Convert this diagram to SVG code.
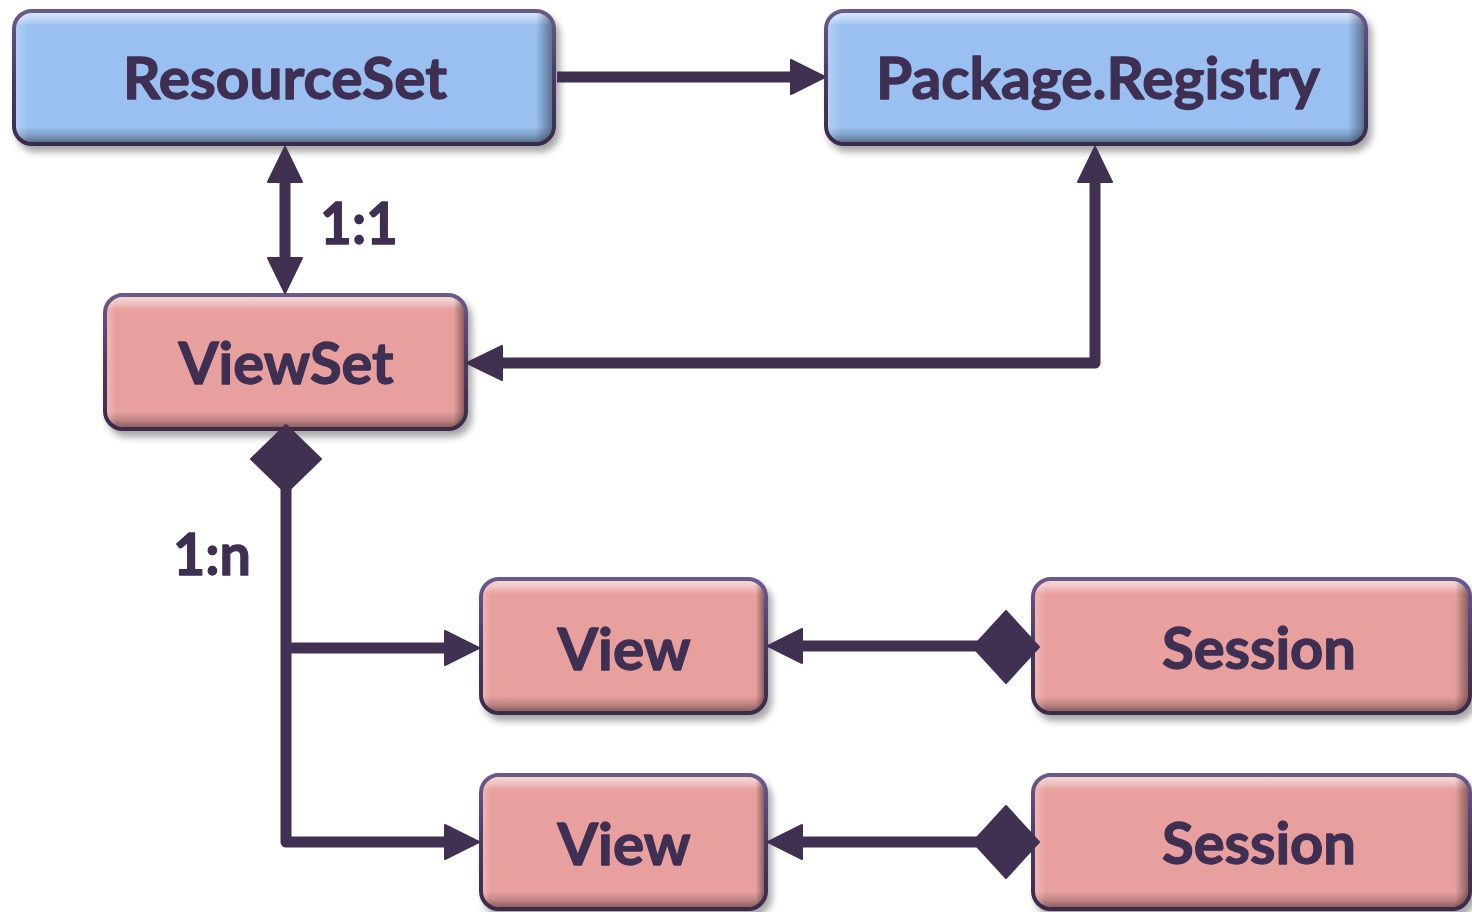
<svg xmlns="http://www.w3.org/2000/svg" width="1472" height="912" viewBox="0 0 1472 912">
<defs>
<style>
.box{stroke:url(#border);stroke-width:4;}
.blue{fill:#99c0f1;}
.pink{fill:#e8a09f;}
.bev{fill:url(#bevV);}
.bevh{fill:url(#bevH);}
.lbl{font-family:Lato,"Open Sans","Liberation Sans",sans-serif;font-weight:bold;font-size:58px;fill:#3e2f53;stroke:#3e2f53;stroke-width:1.3;stroke-linejoin:round;text-anchor:middle;}
.ln{fill:none;stroke:#403152;stroke-width:11;stroke-linejoin:round;}
.hd{fill:#403152;stroke:#403152;stroke-width:2;stroke-linejoin:round;}
</style>
<linearGradient id="border" x1="0" y1="0" x2="0" y2="1">
<stop offset="0" stop-color="#6b5a8c"/>
<stop offset="0.5" stop-color="#4a3a63"/>
<stop offset="1" stop-color="#3a2b49"/>
</linearGradient>
<linearGradient id="bevV" x1="0" y1="0" x2="0" y2="1">
<stop offset="0" stop-color="#ffffff" stop-opacity="0.6"/>
<stop offset="0.05" stop-color="#ffffff" stop-opacity="0.35"/>
<stop offset="0.1" stop-color="#ffffff" stop-opacity="0"/>
<stop offset="0.88" stop-color="#000000" stop-opacity="0"/>
<stop offset="0.94" stop-color="#000000" stop-opacity="0.15"/>
<stop offset="1" stop-color="#000000" stop-opacity="0.4"/>
</linearGradient>
<linearGradient id="bevH" x1="0" y1="0" x2="1" y2="0">
<stop offset="0" stop-color="#ffffff" stop-opacity="0.25"/>
<stop offset="0.025" stop-color="#ffffff" stop-opacity="0"/>
<stop offset="0.97" stop-color="#000000" stop-opacity="0"/>
<stop offset="1" stop-color="#000000" stop-opacity="0.4"/>
</linearGradient>
<filter id="sh" x="-10%" y="-20%" width="125%" height="150%">
<feDropShadow dx="4" dy="6" stdDeviation="3.5" flood-color="#000" flood-opacity="0.35"/>
</filter>
</defs>
<rect width="1472" height="912" fill="#ffffff"/>

<g id="ResourceSet">
<rect class="box blue" x="14" y="11" width="540" height="133" rx="18" filter="url(#sh)"/>
<rect class="bev" x="16" y="13" width="536" height="129" rx="16"/>
<rect class="bevh" x="16" y="13" width="536" height="129" rx="16"/>
<text class="lbl" x="285" y="99" textLength="324" lengthAdjust="spacingAndGlyphs">ResourceSet</text>
</g>
<g id="PackageRegistry">
<rect class="box blue" x="826" y="11" width="540" height="133" rx="18" filter="url(#sh)"/>
<rect class="bev" x="828" y="13" width="536" height="129" rx="16"/>
<rect class="bevh" x="828" y="13" width="536" height="129" rx="16"/>
<text class="lbl" x="1098" y="99" textLength="444" lengthAdjust="spacingAndGlyphs">Package.Registry</text>
</g>
<g id="ViewSet">
<rect class="box pink" x="105" y="295" width="361" height="134" rx="18" filter="url(#sh)"/>
<rect class="bev" x="107" y="297" width="357" height="130" rx="16"/>
<rect class="bevh" x="107" y="297" width="357" height="130" rx="16"/>
<text class="lbl" x="286" y="384" textLength="215" lengthAdjust="spacingAndGlyphs">ViewSet</text>
</g>
<g id="View1">
<rect class="box pink" x="481" y="579" width="285" height="134" rx="18" filter="url(#sh)"/>
<rect class="bev" x="483" y="581" width="281" height="130" rx="16"/>
<rect class="bevh" x="483" y="581" width="281" height="130" rx="16"/>
<text class="lbl" x="624" y="670" textLength="133" lengthAdjust="spacingAndGlyphs">View</text>
</g>
<g id="Session1">
<rect class="box pink" x="1033" y="579" width="437" height="134" rx="18" filter="url(#sh)"/>
<rect class="bev" x="1035" y="581" width="433" height="130" rx="16"/>
<rect class="bevh" x="1035" y="581" width="433" height="130" rx="16"/>
<text class="lbl" x="1259" y="669" textLength="194" lengthAdjust="spacingAndGlyphs">Session</text>
</g>
<g id="View2">
<rect class="box pink" x="481" y="775" width="285" height="134" rx="18" filter="url(#sh)"/>
<rect class="bev" x="483" y="777" width="281" height="130" rx="16"/>
<rect class="bevh" x="483" y="777" width="281" height="130" rx="16"/>
<text class="lbl" x="624" y="865" textLength="133" lengthAdjust="spacingAndGlyphs">View</text>
</g>
<g id="Session2">
<rect class="box pink" x="1033" y="775" width="437" height="134" rx="18" filter="url(#sh)"/>
<rect class="bev" x="1035" y="777" width="433" height="130" rx="16"/>
<rect class="bevh" x="1035" y="777" width="433" height="130" rx="16"/>
<text class="lbl" x="1259" y="864" textLength="194" lengthAdjust="spacingAndGlyphs">Session</text>
</g>

<g id="connectors">
<path class="ln" d="M557,77 H792"/>
<polygon class="hd" points="825,77 791,60 791,94"/>
<path class="ln" d="M285,180 V260"/>
<polygon class="hd" points="285,147 268,182 302,182"/>
<polygon class="hd" points="285,293 268,258 302,258"/>
<path class="ln" d="M1095,180 V363 H500"/>
<polygon class="hd" points="1095,147 1078,182 1112,182"/>
<polygon class="hd" points="467,363 502,346 502,380"/>
<path class="ln" d="M286,480 V842 H447"/>
<path class="ln" d="M286,648 H447"/>
<polygon class="hd" points="286,425 321,459 286,493 251,459"/>
<polygon class="hd" points="479,648 445,631 445,665"/>
<polygon class="hd" points="479,842 445,825 445,859"/>
<path class="ln" d="M980,646 H800"/>
<polygon class="hd" points="1006,611 1039,647 1006,683 973,647"/>
<polygon class="hd" points="768,646 802,629 802,663"/>
<path class="ln" d="M980,842 H800"/>
<polygon class="hd" points="1006,806 1039,842 1006,878 973,842"/>
<polygon class="hd" points="768,842 802,825 802,859"/>
</g>

<g id="label-1-1"><text class="lbl" x="359" y="244" textLength="78" lengthAdjust="spacingAndGlyphs">1:1</text></g>
<g id="label-1-n"><text class="lbl" x="212" y="575" textLength="78" lengthAdjust="spacingAndGlyphs">1:n</text></g>
</svg>
